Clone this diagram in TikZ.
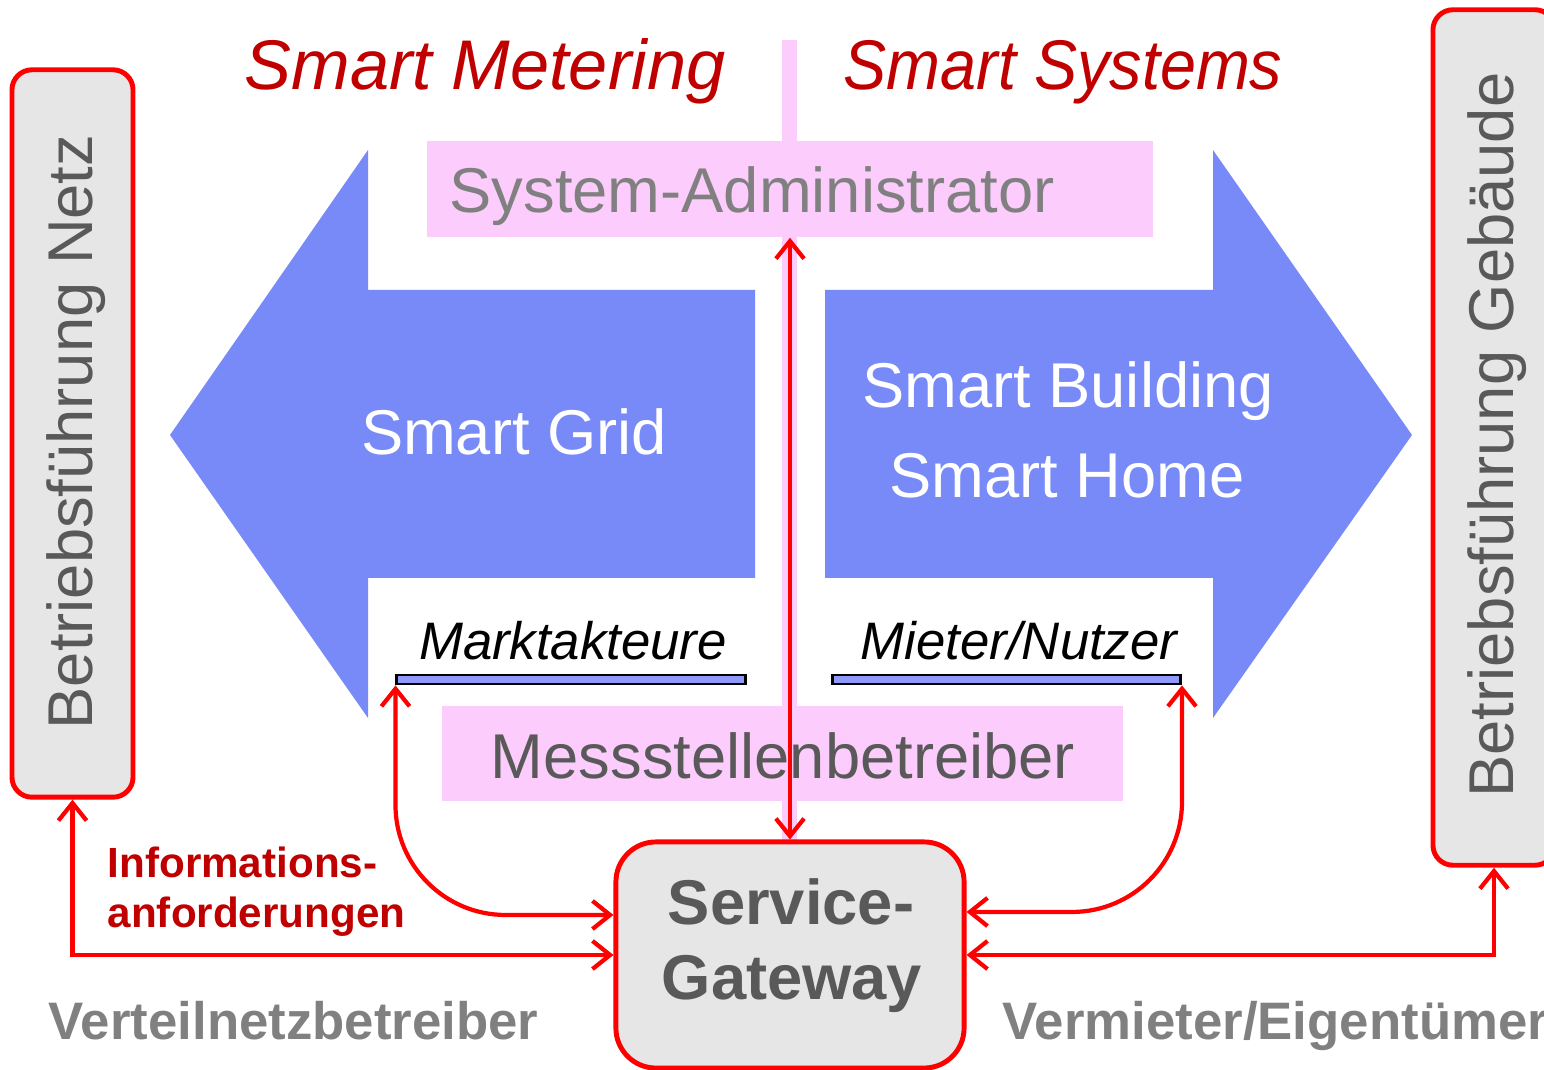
\documentclass[tikz,border=0pt]{standalone}
\usepackage{fontspec}
\setmainfont{Liberation Sans}
\usepackage{xcolor}
\usepackage{tikz}
\usetikzlibrary{arrows.meta, positioning}

\definecolor{pfeilblau}{RGB}{120,138,247}
\definecolor{rosa}{RGB}{252,204,252}
\definecolor{balkenblau}{RGB}{143,153,250}
\definecolor{dunkelrot}{RGB}{192,0,0}
\definecolor{kastengrau}{RGB}{230,230,230}
\definecolor{textgrau}{RGB}{89,89,89}
\definecolor{hellgrau}{RGB}{128,128,128}

\begin{document}
\begin{tikzpicture}[x=0.01cm, y=-0.01cm,
  >={Straight Barb[length=5pt,width=8pt]},
  rosabox/.style={fill=rosa, minimum height=0.96cm, inner sep=0},
  balken/.style={draw=black, fill=balkenblau, line width=0.8pt, minimum width=3.48cm, minimum height=0.09cm, inner sep=0},
  kasten/.style={draw=red, fill=kastengrau, line width=1.4pt, rounded corners=0.2cm, inner sep=0},
  pfeil/.style={draw=red, line width=1.2pt, <->},
  titel/.style={text=dunkelrot, font=\fontsize{20}{24}\selectfont\itshape, anchor=base},
  weiss/.style={text=white, font=\fontsize{18}{22}\selectfont, anchor=base},
  akteur/.style={text=black, font=\fontsize{15}{18}\selectfont\itshape, anchor=base},
  kastentext/.style={text=textgrau, font=\fontsize{18}{22}\selectfont, anchor=base},
  anmerkung/.style={inner sep=0, anchor=base west}]

\useasboundingbox (0,0) rectangle (1544,1070);

% Pfeile Smart Grid / Smart Building
\fill[pfeilblau] (755,290) -- (368,290) -- (368,150) -- (170,435) -- (368,718) -- (368,578) -- (755,578) -- cycle;
\fill[pfeilblau] (825,290) -- (1213,290) -- (1213,150) -- (1412,435) -- (1213,718) -- (1213,578) -- (825,578) -- cycle;
\fill[rosa] (782,40) rectangle (797,842);

\node[titel] (metering) at (485,90) {Smart Metering};
\node[titel, xscale=0.92] (systems) at (1063,90) {Smart Systems};

\node[weiss] (grid) at (514,455) {Smart Grid};
\node[weiss] (building) at (1068,408) {Smart Building};
\node[weiss] (home) at (1067,498) {Smart Home};

% Rollen
\node[rosabox, minimum width=7.26cm] (admin) at (790,189) {};
\node[kastentext, text=hellgrau] (admintext) at (752,213) {System-Administrator};
\node[rosabox, minimum width=6.81cm, minimum height=0.95cm] (mess) at (782.5,753.5) {};
\node[kastentext] (messtext) at (783,778) {Messstellenbetreiber};

\node[akteur] (markt) at (573,660) {Marktakteure};
\node[akteur] (mieter) at (1019,660) {Mieter/Nutzer};
\node[balken] (marktbar) at (571,679.5) {};
\node[balken] (mieterbar) at (1006.5,679.5) {};

% Betriebsfuehrung
\node[kasten, minimum width=1.21cm, minimum height=7.27cm] (netz) at (72.5,433.5) {};
\node[kastentext, rotate=90] (netztext) at (93,432) {Betriebsführung Netz};
\node[kasten, minimum width=1.22cm, minimum height=8.55cm] (gebaeude) at (1494,437.5) {};
\node[kastentext, rotate=90] (gebaeudetext) at (1513,435) {Betriebsführung Gebäude};

% Gateway
\node[kasten, rounded corners=0.4cm, minimum width=3.48cm, minimum height=2.26cm] (gateway) at (790,955) {};
\node[kastentext, font=\fontsize{18}{22}\selectfont\bfseries] (service) at (791,925) {Service-};
\node[kastentext, font=\fontsize{18}{22}\selectfont\bfseries] (gatewaytext) at (792,1000) {Gateway};

% Verbindungen
\draw[pfeil] (admin.south) -- (gateway.north);
\draw[pfeil, rounded corners=1.1cm] (marktbar.south west) |- ([yshift=0.4cm]gateway.west);
\draw[pfeil, rounded corners=1.1cm] (mieterbar.south east) |- ([yshift=0.43cm]gateway.east);
\draw[pfeil] (netz.south) |- (gateway.west);
\draw[pfeil] (gateway.east) -| (gebaeude.south);

\node[anmerkung, text=dunkelrot, font=\fontsize{12}{14}\selectfont\bfseries] (info1) at (107,878) {Informations-};
\node[anmerkung, text=dunkelrot, font=\fontsize{12}{14}\selectfont\bfseries] (info2) at (107,928) {anforderungen};

\node[anmerkung, text=hellgrau, font=\fontsize{15}{18}\selectfont\bfseries] (vnb) at (48,1040) {Verteilnetzbetreiber};
\node[anmerkung, text=hellgrau, font=\fontsize{15}{18}\selectfont\bfseries] (vermieter) at (1002,1040) {Vermieter/Eigentümer};

\end{tikzpicture}
\end{document}
